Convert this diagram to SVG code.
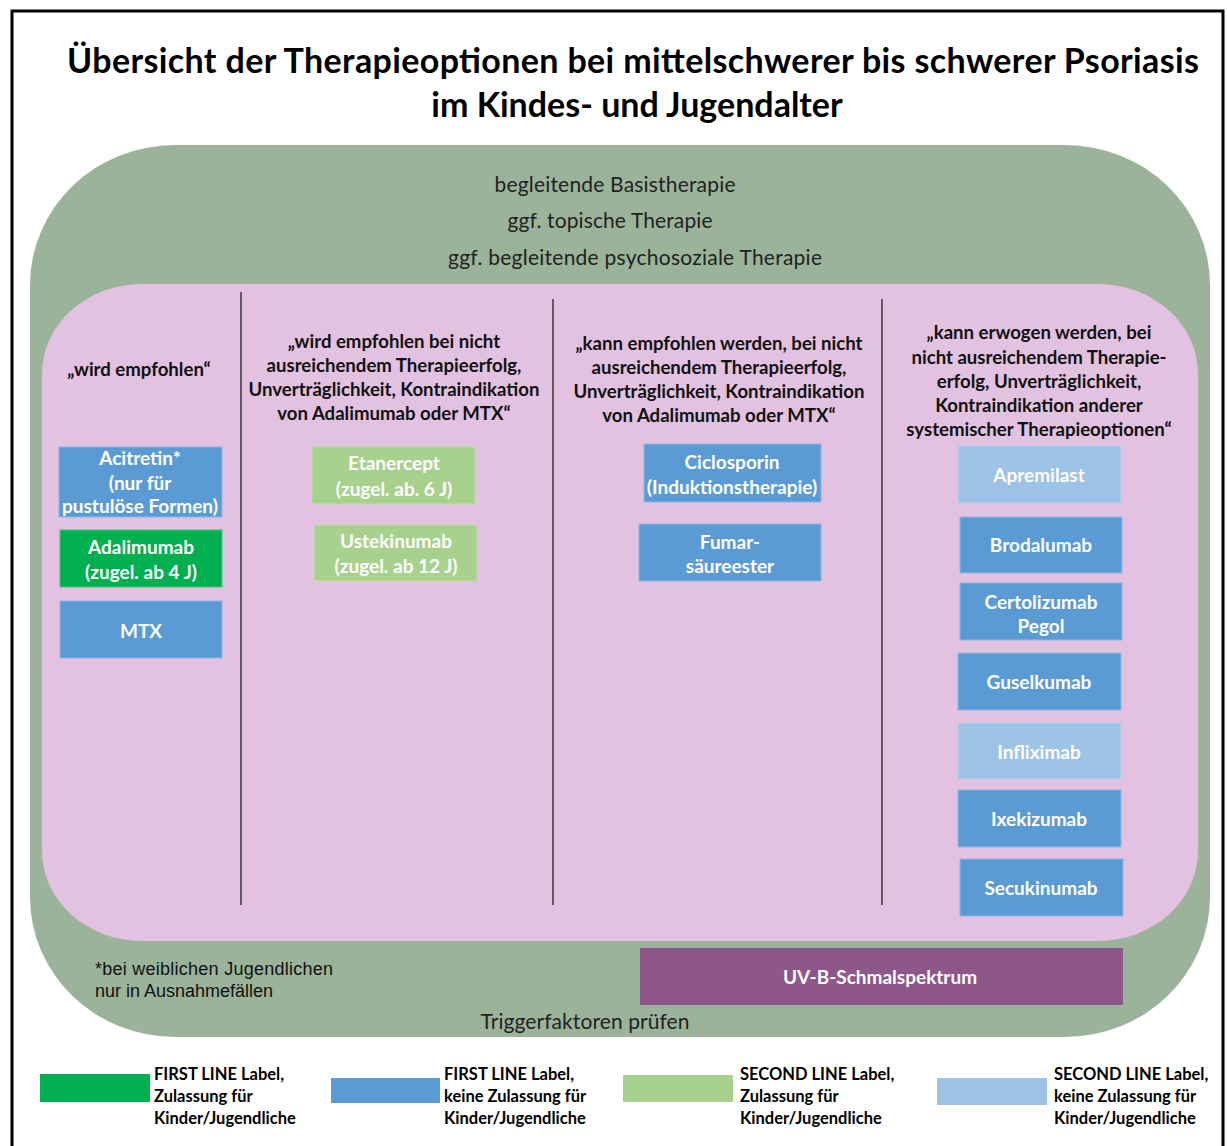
<svg xmlns="http://www.w3.org/2000/svg" width="1227" height="1146" viewBox="0 0 1227 1146">
<style>
.title{font-family:Lato,"Liberation Sans",sans-serif;font-weight:bold;font-size:34px;fill:#000;text-anchor:middle}
.green{font-family:Lato,"Liberation Sans",sans-serif;font-size:21px;fill:#222;text-anchor:middle}
.hdr{font-family:Lato,"Liberation Sans",sans-serif;font-weight:bold;font-size:18.6px;fill:#111;text-anchor:middle}
.bx{font-family:Lato,"Liberation Sans",sans-serif;font-weight:bold;font-size:19px;fill:#fff;text-anchor:middle}
.leg{font-family:Lato,"Liberation Sans",sans-serif;font-weight:bold;font-size:16.5px;fill:#000}
.foot{font-family:"Liberation Sans",Arial,sans-serif;font-size:18px;fill:#111}
.b1{fill:#5B9BD5;stroke:#8DB6E6;stroke-width:1}
.g1{fill:#00B050;stroke:#3FC47A;stroke-width:1}
.g2{fill:#A9D18E;stroke:#BFDDAA;stroke-width:1}
.b2{fill:#9DC3E6;stroke:#B7D3EE;stroke-width:1}
.div{stroke:#222;stroke-width:1.3}
</style>
<rect x="12" y="11" width="1211" height="1140" fill="#fff" stroke="#000" stroke-width="3"/>
<g id="title">
<text class="title" x="633" y="73" textLength="1132">Übersicht der Therapieoptionen bei mittelschwerer bis schwerer Psoriasis</text>
<text class="title" x="637" y="117">im Kindes- und Jugendalter</text>
</g>
<g id="outer-green">
<rect x="30" y="145" width="1180" height="892" rx="145" ry="140" fill="#9BB39B"/>
<text class="green" x="615" y="192" textLength="241">begleitende Basistherapie</text>
<text class="green" x="610" y="228" textLength="205">ggf. topische Therapie</text>
<text class="green" x="635" y="265" textLength="374">ggf. begleitende psychosoziale Therapie</text>
<text class="green" x="585" y="1029" textLength="209">Triggerfaktoren prüfen</text>
</g>
<g id="inner-pink">
<rect x="42" y="284" width="1156" height="657" rx="100" ry="90" fill="#E2C2E0"/>
</g>
<g id="dividers">
<line class="div" x1="241" y1="292" x2="241" y2="905"/>
<line class="div" x1="553" y1="299" x2="553" y2="905"/>
<line class="div" x1="882" y1="299" x2="882" y2="905"/>
</g>
<g id="header-col1"><text class="hdr" x="139" y="376">„wird empfohlen“</text></g>
<g id="header-col2">
<text class="hdr" x="394" y="348">„wird empfohlen bei nicht</text>
<text class="hdr" x="394" y="372">ausreichendem Therapieerfolg,</text>
<text class="hdr" x="394" y="396">Unverträglichkeit, Kontraindikation</text>
<text class="hdr" x="394" y="420">von Adalimumab oder MTX“</text>
</g>
<g id="header-col3">
<text class="hdr" x="719" y="350">„kann empfohlen werden, bei nicht</text>
<text class="hdr" x="719" y="374">ausreichendem Therapieerfolg,</text>
<text class="hdr" x="719" y="398">Unverträglichkeit, Kontraindikation</text>
<text class="hdr" x="719" y="422">von Adalimumab oder MTX“</text>
</g>
<g id="header-col4">
<text class="hdr" x="1039" y="339">„kann erwogen werden, bei</text>
<text class="hdr" x="1039" y="364">nicht ausreichendem Therapie-</text>
<text class="hdr" x="1039" y="388">erfolg, Unverträglichkeit,</text>
<text class="hdr" x="1039" y="412">Kontraindikation anderer</text>
<text class="hdr" x="1039" y="436">systemischer Therapieoptionen“</text>
</g>
<g id="acitretin"><rect class="b1" x="59" y="447" width="163" height="70"/>
<text class="bx" x="140" y="465">Acitretin*</text><text class="bx" x="140" y="490">(nur für</text><text class="bx" x="140" y="513">pustulöse Formen)</text></g>
<g id="adalimumab"><rect class="g1" x="60" y="530" width="162" height="57"/>
<text class="bx" x="141" y="554">Adalimumab</text><text class="bx" x="141" y="579">(zugel. ab 4 J)</text></g>
<g id="mtx"><rect class="b1" x="60" y="601" width="162" height="57"/>
<text class="bx" x="141" y="638">MTX</text></g>
<g id="etanercept"><rect class="g2" x="312" y="447" width="163" height="57"/>
<text class="bx" x="394" y="470">Etanercept</text><text class="bx" x="394" y="496">(zugel. ab. 6 J)</text></g>
<g id="ustekinumab"><rect class="g2" x="314" y="525" width="163" height="56"/>
<text class="bx" x="396" y="548">Ustekinumab</text><text class="bx" x="396" y="573">(zugel. ab 12 J)</text></g>
<g id="ciclosporin"><rect class="b1" x="644" y="444" width="177" height="58"/>
<text class="bx" x="732" y="469">Ciclosporin</text><text class="bx" x="732" y="494">(Induktionstherapie)</text></g>
<g id="fumarsaeureester"><rect class="b1" x="639" y="524" width="182" height="57"/>
<text class="bx" x="730" y="549">Fumar-</text><text class="bx" x="730" y="573">säureester</text></g>
<g id="apremilast"><rect class="b2" x="958" y="446" width="163" height="57"/>
<text class="bx" x="1039" y="482">Apremilast</text></g>
<g id="brodalumab"><rect class="b1" x="960" y="517" width="162" height="56"/>
<text class="bx" x="1041" y="552">Brodalumab</text></g>
<g id="certolizumab"><rect class="b1" x="960" y="583" width="162" height="57"/>
<text class="bx" x="1041" y="609">Certolizumab</text><text class="bx" x="1041" y="633">Pegol</text></g>
<g id="guselkumab"><rect class="b1" x="958" y="653" width="163" height="57"/>
<text class="bx" x="1039" y="689">Guselkumab</text></g>
<g id="infliximab"><rect class="b2" x="958" y="723" width="163" height="56"/>
<text class="bx" x="1039" y="759">Infliximab</text></g>
<g id="ixekizumab"><rect class="b1" x="958" y="790" width="163" height="57"/>
<text class="bx" x="1039" y="826">Ixekizumab</text></g>
<g id="secukinumab"><rect class="b1" x="960" y="859" width="163" height="57"/>
<text class="bx" x="1041" y="895">Secukinumab</text></g>
<g id="uvb"><rect x="640" y="948" width="483" height="57" fill="#8D5789"/>
<text class="bx" x="880" y="984">UV-B-Schmalspektrum</text></g>
<g id="footnote">
<text class="foot" x="95" y="975" textLength="238">*bei weiblichen Jugendlichen</text>
<text class="foot" x="95" y="997">nur in Ausnahmefällen</text>
</g>
<g id="legend-first-approved"><rect x="40" y="1074" width="110" height="28" fill="#00B050"/>
<text class="leg" x="154" y="1080">FIRST LINE Label,</text><text class="leg" x="154" y="1102">Zulassung für</text><text class="leg" x="154" y="1124">Kinder/Jugendliche</text></g>
<g id="legend-first-not-approved"><rect x="331" y="1078" width="109" height="25" fill="#5B9BD5"/>
<text class="leg" x="444" y="1080">FIRST LINE Label,</text><text class="leg" x="444" y="1102">keine Zulassung für</text><text class="leg" x="444" y="1124">Kinder/Jugendliche</text></g>
<g id="legend-second-approved"><rect x="623" y="1075" width="110" height="27" fill="#A9D18E"/>
<text class="leg" x="740" y="1080">SECOND LINE Label,</text><text class="leg" x="740" y="1102">Zulassung für</text><text class="leg" x="740" y="1124">Kinder/Jugendliche</text></g>
<g id="legend-second-not-approved"><rect x="937" y="1078" width="110" height="27" fill="#9DC3E6"/>
<text class="leg" x="1054" y="1080">SECOND LINE Label,</text><text class="leg" x="1054" y="1102">keine Zulassung für</text><text class="leg" x="1054" y="1124">Kinder/Jugendliche</text></g>
</svg>
